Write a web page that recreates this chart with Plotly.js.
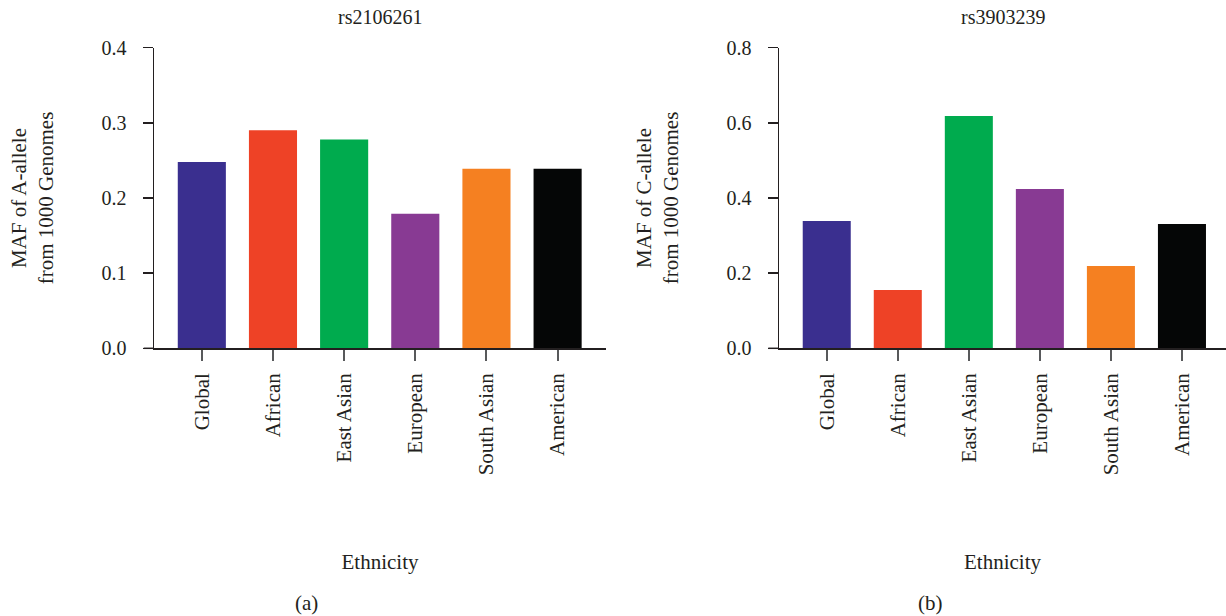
<!DOCTYPE html>
<html>
<head>
<meta charset="utf-8">
<script src="https://cdn.plot.ly/plotly-3.0.1.min.js"></script>
<style>html,body{margin:0;padding:0;background:#fff;}#chart{width:1226px;height:616px;}</style>
</head>
<body>
<div id="chart"></div>
<script>
const categories = ["Global", "African", "East Asian", "European", "South Asian", "American"];
const rs2106261 = [0.248, 0.290, 0.278, 0.179, 0.239, 0.239];
const rs3903239 = [0.339, 0.155, 0.618, 0.424, 0.219, 0.331];
const barColors = ["#3a2f8f", "#ee4226", "#00ab4e", "#883a93", "#f58021", "#050606"];
const yTicksA = [0, 0.1, 0.2, 0.3, 0.4];
const yTicksB = [0, 0.2, 0.4, 0.6, 0.8];

const FONT = "Liberation Serif";
const TXT = "#231f20";
const W = 1226, H = 616;

const traces = [
  {type: "bar", x: categories, y: rs2106261, marker: {color: barColors}, width: 0.676, xaxis: "x", yaxis: "y", hoverinfo: "x+y"},
  {type: "bar", x: categories, y: rs3903239, marker: {color: barColors}, width: 0.676, xaxis: "x2", yaxis: "y2", hoverinfo: "x+y"}
];

function xax(domain, range) {
  return {
    domain: domain, range: range, type: "category",
    showline: true, linecolor: TXT, linewidth: 1.5,
    ticks: "outside", ticklen: 11, tickwidth: 2, tickcolor: "#58595b",
    tickangle: -90, ticklabelstandoff: 4,
    tickfont: {family: FONT, size: 21, color: TXT},
    showgrid: false, zeroline: false, fixedrange: true,
    title: {text: "Ethnicity", font: {family: FONT, size: 21, color: TXT}, standoff: 80}
  };
}
function yax(anchor, range, ticks, title) {
  return {
    domain: [1 - 348.3 / H, 1 - 47.7 / H], range: range, anchor: anchor,
    showline: true, linecolor: TXT, linewidth: 1.5,
    ticks: "outside", ticklen: 10, tickwidth: 1.5, tickcolor: TXT,
    tickvals: ticks, tickformat: ".1f", ticklabelstandoff: 12,
    tickfont: {family: FONT, size: 20, color: TXT},
    showgrid: false, zeroline: false, fixedrange: true,
    title: {text: title, font: {family: FONT, size: 21, color: TXT}, standoff: 42}
  };
}

const xa = xax([154 / W, 606 / W], [-0.672, 5.68]);
const xb = xax([779 / W, 1], [-0.672, 5.62]);
xa.anchor = "y";
xb.anchor = "y2";

const layout = {
  width: W, height: H,
  margin: {l: 0, r: 0, t: 0, b: 0},
  paper_bgcolor: "#fff", plot_bgcolor: "#fff",
  showlegend: false,
  font: {family: FONT, color: TXT},
  xaxis: xa, xaxis2: xb,
  yaxis: yax("x", [0, 0.4], yTicksA, "MAF of A-allele<br>from 1000 Genomes"),
  yaxis2: yax("x2", [0, 0.8], yTicksB, "MAF of C-allele<br>from 1000 Genomes"),
  shapes: [
    {type: "line", xref: "x domain", yref: "y domain", x0: -10.3 / 452, x1: 0, y0: 0, y1: 0, line: {color: TXT, width: 1.5}},
    {type: "line", xref: "x2 domain", yref: "y2 domain", x0: -10.7 / 447, x1: 0, y0: 0, y1: 0, line: {color: TXT, width: 1.5}}
  ],
  annotations: [
    {text: "rs2106261", xref: "x domain", yref: "paper", x: 0.5, y: 1 - 17.3 / H, xanchor: "center", yanchor: "middle", showarrow: false, font: {family: FONT, size: 20, color: TXT}},
    {text: "rs3903239", xref: "x2 domain", yref: "paper", x: 0.5, y: 1 - 17.3 / H, xanchor: "center", yanchor: "middle", showarrow: false, font: {family: FONT, size: 20, color: TXT}},
    {text: "(a)", xref: "paper", yref: "paper", x: 306.7 / W, y: 1 - 603 / H, xanchor: "center", yanchor: "middle", showarrow: false, font: {family: FONT, size: 21, color: TXT}},
    {text: "(b)", xref: "paper", yref: "paper", x: 930.7 / W, y: 1 - 603 / H, xanchor: "center", yanchor: "middle", showarrow: false, font: {family: FONT, size: 21, color: TXT}}
  ]
};

Plotly.newPlot("chart", traces, layout, {displayModeBar: false, staticPlot: true});
</script>
</body>
</html>
